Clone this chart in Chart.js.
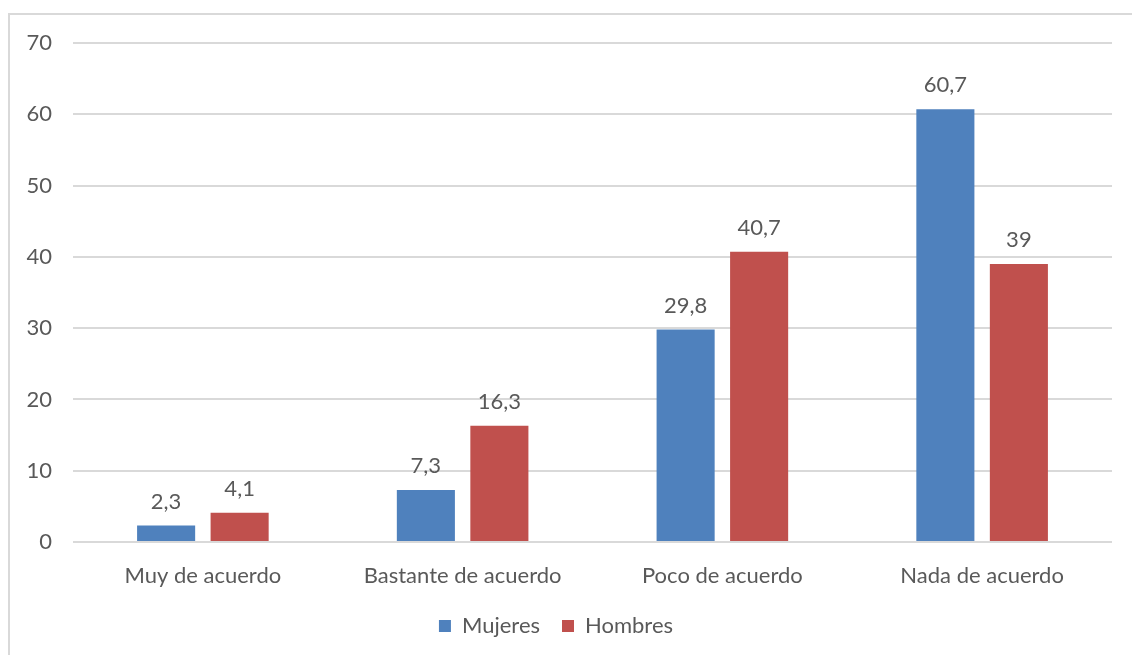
<!DOCTYPE html>
<html>
<head>
<meta charset="utf-8">
<script src="https://cdn.jsdelivr.net/npm/chart.js@4"></script>
<style>
  html, body { margin: 0; padding: 0; background: #fff; }
  #wrap { position: relative; width: 1132px; height: 655px; overflow: hidden; }
  #frame { position: absolute; left: 8px; top: 13px; width: 1130px; height: 650px;
           border-top: 2px solid #d9d9d9; border-left: 2px solid #d9d9d9; box-sizing: border-box; }
  canvas { position: absolute; left: 0; top: 0; }
</style>
</head>
<body>
<div id="wrap">
  <div id="frame"></div>
  <canvas id="c" width="1132" height="655"></canvas>
</div>
<script>
const categories = ["Muy de acuerdo", "Bastante de acuerdo", "Poco de acuerdo", "Nada de acuerdo"];
const mujeres = [2.3, 7.3, 29.8, 60.7];
const hombres = [4.1, 16.3, 40.7, 39];
const seriesNames = ["Mujeres", "Hombres"];
const yTicks = [0, 10, 20, 30, 40, 50, 60, 70];

const FONT = "Lato, 'Open Sans', sans-serif";
const TEXT = "#595959";
const FS = 22;

const labelPlugin = {
  id: "barLabels",
  afterDatasetsDraw(chart) {
    const ctx = chart.ctx;
    ctx.save();
    ctx.font = FS + "px " + FONT;
    ctx.fillStyle = TEXT;
    ctx.textAlign = "center";
    ctx.textBaseline = "alphabetic";
    chart.data.datasets.forEach((ds, i) => {
      chart.getDatasetMeta(i).data.forEach((bar, j) => {
        ctx.fillText(String(ds.data[j]).replace(".", ","), bar.x, bar.y - 17);
      });
    });
    ctx.restore();
  }
};

new Chart(document.getElementById("c"), {
  type: "bar",
  data: {
    labels: categories,
    datasets: [
      { label: seriesNames[0], data: mujeres, backgroundColor: "#4F81BD", borderWidth: 0 },
      { label: seriesNames[1], data: hombres, backgroundColor: "#C0504D", borderWidth: 0 }
    ]
  },
  options: {
    responsive: false,
    animation: false,
    devicePixelRatio: 1,
    categoryPercentage: 0.566,
    barPercentage: 0.79,
    layout: { padding: { top: 43, right: 20, left: 0, bottom: 8 } },
    plugins: {
      tooltip: { enabled: false },
      legend: {
        position: "bottom",
        labels: {
          font: { family: FONT, size: FS },
          color: TEXT,
          boxWidth: 12, boxHeight: 12,
          padding: 22
        }
      }
    },
    scales: {
      x: {
        afterFit(scale) { scale.height = 51; },
        grid: { display: false, drawTicks: false },
        border: { display: false },
        ticks: { font: { family: FONT, size: FS }, color: TEXT, padding: 21 }
      },
      y: {
        min: 0, max: 70,
        afterFit(scale) { scale.width = 73; },
        afterBuildTicks(scale) { scale.ticks = yTicks.map(v => ({ value: v })); },
        grid: { color: "#d9d9d9", lineWidth: 2, drawTicks: false },
        border: { display: false },
        ticks: { font: { family: FONT, size: FS }, color: TEXT, padding: 21 }
      }
    }
  },
  plugins: [labelPlugin]
});
</script>
</body>
</html>
